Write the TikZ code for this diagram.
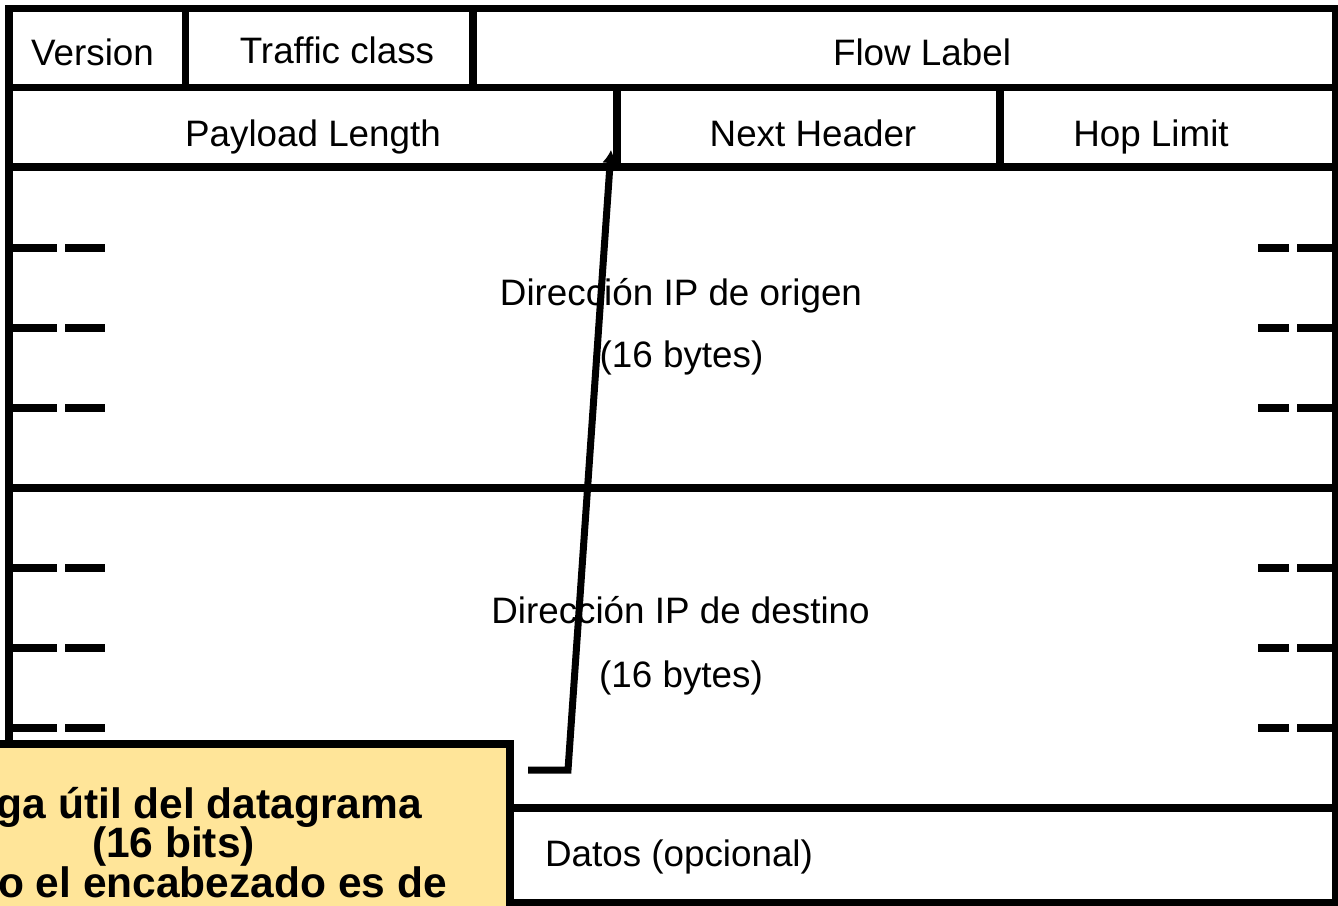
\documentclass[tikz,border=0pt]{standalone}
\usepackage{fontspec}
\setmainfont{Liberation Sans}
\usetikzlibrary{arrows.meta}
\definecolor{notefill}{HTML}{FFE599}
\begin{document}
\begin{tikzpicture}[x=1pt,y=-1pt,
  rule/.style={line width=7.5pt},
  field/.style={anchor=base, inner sep=0pt, font=\fontsize{36.8}{44}\selectfont},
  ptr/.style={line width=7pt, line join=miter, -{Latex[length=13pt,width=16pt]}},
  notebox/.style={draw, line width=7.5pt, fill=notefill},
  notetext/.style={inner sep=0pt, font=\fontsize{42.5}{40}\selectfont\bfseries},
  gapdash/.style={line width=8pt}]
\useasboundingbox (0,0) rectangle (1338,905);
\fill[white] (0,0) rectangle (1338,905);

% outer frame and word boundaries
\draw[rule] (9,8.5) rectangle (1335.5,903);
\draw[rule] (9,87.5) -- (1335.5,87.5);
\draw[rule] (9,167) -- (1335.5,167);
\draw[rule] (9,488) -- (1335.5,488);
\draw[rule] (9,808) -- (1335.5,808);

% field dividers
\draw[rule] (185.5,8.5) -- (185.5,87.5);
\draw[rule] (473,8.5) -- (473,87.5);
\draw[rule] (617,87.5) -- (617,167);
\draw[rule] (1000,87.5) -- (1000,167);

% broken word marks inside the 128-bit addresses
\foreach \y in {248,328,408,568,648,728} {
  \draw[gapdash] (9,\y) -- (57,\y) (65,\y) -- (105,\y);
  \draw[gapdash] (1258,\y) -- (1289,\y) (1297,\y) -- (1335.5,\y);
}

% field labels
\node[field] (version) at (92.5,65) {Version};
\node[field] (traffic) at (337,63) {Traffic class};
\node[field] (flow) at (922,65) {Flow Label};
\node[field] (payload) at (313,146) {Payload Length};
\node[field] (next) at (813,146) {Next Header};
\node[field] (hop) at (1151,146) {Hop Limit};
\node[field] (src) at (681,305) {Dirección IP de origen};
\node[field] (srclen) at (681.5,367) {(16 bytes)};
\node[field] (dst) at (680.5,623) {Dirección IP de destino};
\node[field] (dstlen) at (681,687) {(16 bytes)};
\node[field] (data) at (679,866) {Datos (opcional)};

% pointer from the note to the payload length field
\coordinate (notetip) at (528,770);
\coordinate (bend) at (568,770);
\coordinate (target) at (611,150);
\draw[ptr] (notetip) -- (bend) -- (target);

% explanatory note
\draw[notebox] (-10,744) rectangle (510,925);
\node[notetext, anchor=base east] (note1) at (422,818) {ga útil del datagrama};
\node[notetext, anchor=base] (note2) at (173.5,857) {(16 bits)};
\node[notetext, anchor=base east] (note3) at (447,897) {o el encabezado es de};
\end{tikzpicture}
\end{document}
